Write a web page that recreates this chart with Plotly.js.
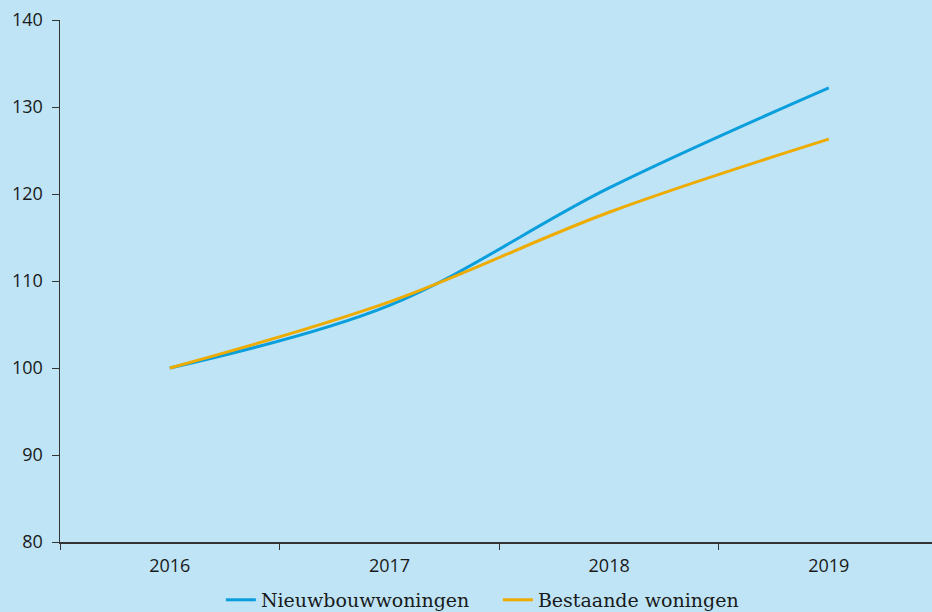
<!DOCTYPE html>
<html>
<head>
<meta charset="utf-8">
<script src="https://cdn.plot.ly/plotly-3.0.1.min.js"></script>
<style>html,body{margin:0;padding:0;background:#bee4f6;}#chart{width:932px;height:612px;}</style>
</head>
<body>
<div id="chart"></div>
<script>
const years = ["2016", "2017", "2018", "2019"];
const nieuwbouw = [100, 107.2, 120.7, 132.2];
const bestaande = [100, 107.6, 117.9, 126.3];
const seriesNames = ["Nieuwbouwwoningen", "Bestaande woningen"];
const yTicks = [80, 90, 100, 110, 120, 130, 140];

const bg = "#bee4f6";
const data = [
  {x: years, y: nieuwbouw, name: seriesNames[0], type: "scatter", mode: "lines",
   line: {color: "#0a9fdc", width: 3, shape: "spline", smoothing: 1}},
  {x: years, y: bestaande, name: seriesNames[1], type: "scatter", mode: "lines",
   line: {color: "#eeab00", width: 3, shape: "spline", smoothing: 1}}
];
const layout = {
  width: 932, height: 612,
  margin: {l: 60, r: 0, t: 20, b: 70, autoexpand: false},
  paper_bgcolor: bg, plot_bgcolor: bg,
  font: {family: "Open Sans, Arial, sans-serif", size: 18, color: "#1a1a1a"},
  showlegend: true,
  legend: {orientation: "h", x: 0.1845, xanchor: "left", y: -0.111, yanchor: "middle",
    font: {family: "DejaVu Serif, serif", size: 19, color: "#1a1a1a"},
    bgcolor: "rgba(0,0,0,0)", itemwidth: 30, entrywidth: 232, traceorder: "normal"},
  xaxis: {type: "category", range: [-0.5, 3.47], showline: true, linecolor: "#333", linewidth: 1.5,
    ticks: "outside", tickson: "boundaries", ticklen: 6, tickcolor: "#333", showgrid: false,
    zeroline: false, tickfont: {size: 18}, ticklabelstandoff: 7, automargin: false},
  yaxis: {range: [80, 140], tickvals: yTicks, showline: true, linecolor: "#333", linewidth: 1.5,
    ticks: "outside", ticklen: 7, tickcolor: "#333", showgrid: false, zeroline: false,
    tickfont: {size: 18}, ticklabelstandoff: 5, automargin: false}
};
Plotly.newPlot("chart", data, layout, {displayModeBar: false, staticPlot: true});
</script>
</body>
</html>
